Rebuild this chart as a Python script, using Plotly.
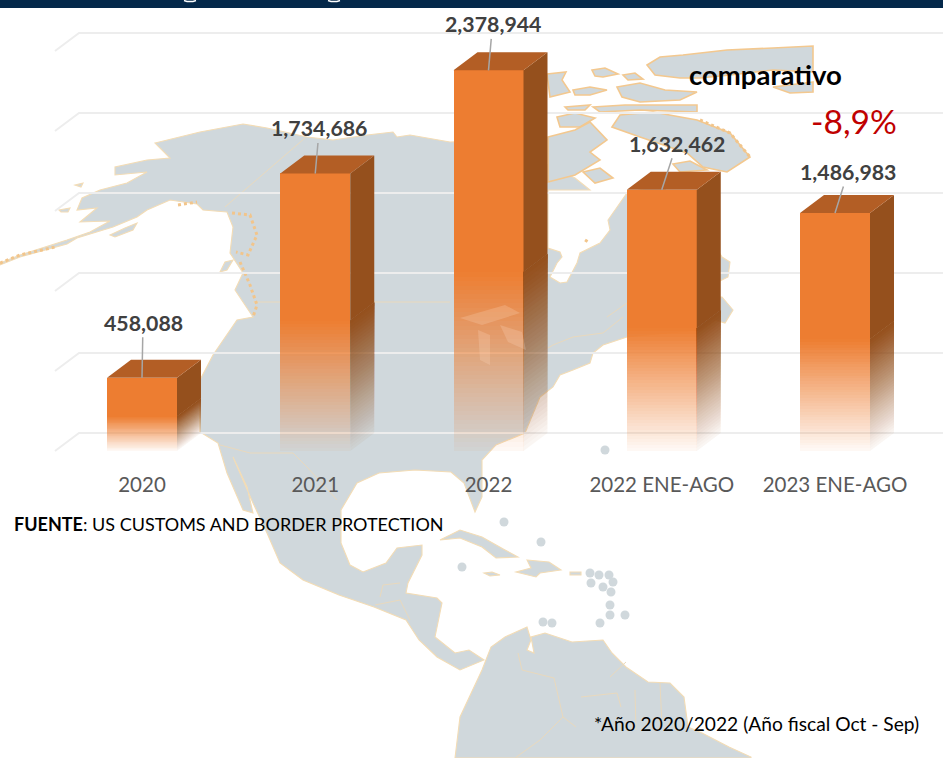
import plotly.graph_objects as go

# ---------- chart data ----------
CATEGORIES = ["2020", "2021", "2022", "2022 ENE-AGO", "2023 ENE-AGO"]
VALUES = [458088, 1734686, 2378944, 1632462, 1486983]
GRID_TICKS = [0, 500000, 1000000, 1500000, 2000000, 2500000]
LABEL_OFFSETS = [(1, -55), (4, -45), (4, -46), (15, -46), (13, -41)]

# ---------- figure geometry ----------
W, H = 943, 758
PX_PER_CAT = 173.25
UNITS_PER_PX = 6250
ZERO_PX_X, ZERO_PX_Y = 142, 451
XR = [(0 - ZERO_PX_X) / PX_PER_CAT, (W - ZERO_PX_X) / PX_PER_CAT]
YR = [-(H - ZERO_PX_Y) * UNITS_PER_PX, ZERO_PX_Y * UNITS_PER_PX]
BAR_W = 70 / PX_PER_CAT
DEPTH_X = 24 / PX_PER_CAT
DEPTH_Y = 18 * UNITS_PER_PX
FADE_TOP = 0.47
FADE_BANDS = 40
FADE_MIN_ALPHA = 0.04

# ---------- decorative background map (pixel outlines) ----------
LAND = [
 (0,263),(20,255),(67,240),(90,232),(110,221),(80,222),(97,208),(77,210),(82,198),(100,190),
 (127,183),(147,172),(115,175),(115,167),(147,160),(170,158),(155,143),(200,132),(243,124),(267,128),
 (307,137),(333,140),(367,135),(393,132),(397,137),(410,135),(450,142),(500,140),(548,165),
 (575,178),(590,190),(548,190),(548,248),(560,252),(562,257),(557,263),(550,277),(560,283),(567,282),
 (577,263),(580,253),(600,243),(610,230),(608,220),(627,193),
 (660,185),(700,220),(722,257),(730,262),(728,277),(718,282),(715,297),(722,297),(733,310),(725,323),
 (715,320),(700,330),(627,337),(603,345),(593,353),(590,363),(573,370),(560,375),(553,387),
 (540,397),(525,433),(496,445),(482,460),(482,497),(475,512),(464,483),(451,472),
 (415,470),(379,473),(357,483),(341,510),(341,543),(350,565),(363,572),(386,563),(397,548),
 (422,545),(422,555),(408,583),(406,593),(437,598),(442,603),(435,637),(455,653),(469,650),
 (484,660),(460,670),(437,657),(419,640),(406,620),(374,607),(339,595),(303,580),(280,563),
 (267,533),(253,503),(233,457),(247,487),(253,513),(243,510),(227,473),(218,443),(200,432),
 (200,380),(213,355),(237,320),(253,317),(235,290),(243,273),(230,253),(233,227),(227,212),
 (203,210),(197,204),(170,200),(147,210),(137,217),(113,227),(77,238),(67,244),(20,257),(0,265),
]
SOUTH_AMERICA = [
 (482,670),(491,647),(505,637),(527,627),(531,640),(527,650),(534,653),(531,637),(545,633),
 (572,642),(603,640),(612,653),(626,667),(648,682),(670,683),(684,697),(688,727),(702,733),
 (729,747),(751,757),(751,758),(455,758),(460,717),
]
ARCTIC = [
 [(647,65),(660,57),(683,55),(727,50),(773,48),(813,46),(813,72),(773,70),(730,75),(700,78),(680,78),(655,75)],
 [(813,82),(773,87),(790,93),(813,92)],
 [(547,74),(566,72),(562,80),(570,92),(550,97)],
 [(592,70),(605,68),(618,74),(603,77),(595,76)],
 [(623,75),(635,73),(643,79),(628,80)],
 [(573,90),(590,87),(607,90),(590,95),(575,95)],
 [(617,87),(640,83),(665,90),(697,92),(680,100),(640,102),(622,97)],
 [(565,107),(590,105),(585,110),(568,110)],
 [(593,107),(625,105),(697,105),(697,112),(640,110),(600,112)],
 [(557,117),(575,113),(595,118),(580,127),(560,127)],
 [(548,137),(575,130),(590,122),(607,140),(590,152),(600,160),(575,175),(548,182)],
 [(583,172),(600,168),(613,178),(595,183)],
 [(612,127),(620,115),(653,112),(697,120),(730,133),(750,157),(727,172),(703,167),(687,153),(640,137)],
 [(673,164),(690,161),(707,170),(680,172)],
]
ISLANDS = [
 [(440,540),(460,530),(482,537),(505,550),(518,557),(496,558),(482,547),(460,538)],
 [(527,560),(549,562),(561,570),(540,573),(536,577),(516,572),(531,568)],
 [(484,573),(492,572),(500,575),(490,576)],
 [(570,572),(581,572),(581,575),(570,575)],
 [(59,210),(70,208),(68,212),(61,212)],
 [(75,185),(83,183),(81,187)],
 [(110,235),(125,228),(137,223),(133,230),(115,237)],
 [(220,272),(225,262),(233,260),(227,270)],
]
DOTS = [(605,450),(504,522),(541,542),(462,567),(590,573),(599,575),(609,575),(591,583),(613,582),
        (603,587),(611,592),(610,605),(610,615),(625,615),(600,623),(543,622),(552,623)]
BORDERS = [
 [(225,207),(305,138)],
 [(253,302),(450,302)],
 [(220,445),(250,453),(293,453),(307,467),(337,500)],
 [(623,317),(603,333),(573,337),(553,345),(548,348)],
 [(627,303),(607,317)],
 [(518,653),(522,670),(554,678),(563,717),(576,727)],
 [(581,697),(617,693),(621,707)],
 [(610,677),(626,662)],
 [(635,690),(636,730)],
 [(660,683),(662,725)],
 [(563,717),(540,740),(515,758)],
 [(383,585),(380,597)],[(383,585),(400,583)],[(375,605),(400,600),(410,620)],
]
ORANGE_COASTS = [
 [(232,213),(250,215),(257,235),(248,255),(236,252)],
 [(240,262),(250,285),(257,305),(253,317)],
 [(0,263),(20,255),(55,247)],
 [(178,205),(197,202)],
 [(700,120),(730,133),(750,157)],
 [(585,240),(590,243)],
]
LAKES = [
 [(460,318),(505,305),(520,313),(482,325)],
 [(478,330),(490,335),(490,365),(480,360)],
 [(500,325),(522,332),(526,350),(508,342)],
]
TITLE_BAR_COLOR = "#04284a"
LAND_COLOR = "#d0d8dc"
COAST_COLOR = "#f3dcb5"
ARCTIC_COAST_COLOR = "#f3c88f"

def px(x):
    return x / W
def py(y):
    return 1 - y / H
def poly_path(pts):
    return "M" + "L".join(f"{px(x):.5f},{py(y):.5f}" for x, y in pts) + "Z"
def line_path(pts):
    return "M" + "L".join(f"{px(x):.5f},{py(y):.5f}" for x, y in pts)

shapes = []
for poly in [LAND, SOUTH_AMERICA] + ISLANDS:
    shapes.append(dict(type="path", path=poly_path(poly), xref="paper", yref="paper", layer="below",
                       fillcolor=LAND_COLOR, line=dict(color=COAST_COLOR, width=1.1)))
for poly in ARCTIC:
    shapes.append(dict(type="path", path=poly_path(poly), xref="paper", yref="paper", layer="below",
                       fillcolor=LAND_COLOR, line=dict(color=ARCTIC_COAST_COLOR, width=1.6)))
for x, y in DOTS:
    shapes.append(dict(type="circle", xref="paper", yref="paper", layer="below",
                       x0=px(x-4.5), x1=px(x+4.5), y0=py(y+4.5), y1=py(y-4.5),
                       fillcolor=LAND_COLOR, line=dict(width=0)))
for b in BORDERS:
    shapes.append(dict(type="path", path=line_path(b), xref="paper", yref="paper", layer="below",
                       line=dict(color="#e9d9bd", width=1)))
for c in ORANGE_COASTS:
    shapes.append(dict(type="path", path=line_path(c), xref="paper", yref="paper", layer="below",
                       line=dict(color="#f2c58b", width=3, dash="dot")))

# back-wall gridlines with their slanted return, in data units
for t in GRID_TICKS:
    path = (f"M{(55 - ZERO_PX_X)/PX_PER_CAT:.4f},{t}"
            f"L{(79 - ZERO_PX_X)/PX_PER_CAT:.4f},{t + DEPTH_Y}L{XR[1]:.4f},{t + DEPTH_Y}")
    shapes.append(dict(type="path", path=path, xref="x", yref="y", layer="below",
                       line=dict(color="#ededed", width=2)))

# lakes tint, seen through the bars
for lake in LAKES:
    shapes.append(dict(type="path", path=poly_path(lake), xref="paper", yref="paper", layer="above",
                       fillcolor="rgba(255,225,200,0.22)", line=dict(width=0)))

# header band and the cut-off heading strokes
shapes.append(dict(type="rect", xref="paper", yref="paper", layer="above", x0=0, x1=1, y0=py(8), y1=1,
                   fillcolor=TITLE_BAR_COLOR, line=dict(width=0)))
for a, b in [(184, 196), (328, 340)]:
    shapes.append(dict(type="path", path=line_path([(a, 0.5), (a + 3, 1.5), (b - 3, 1.5), (b, 0.5)]),
                       xref="paper", yref="paper", layer="above", line=dict(color="#ffffff", width=1.5)))

# ---------- marks ----------
positions = list(range(len(VALUES)))

def alpha(frac_low, frac_high):
    f = (frac_low + frac_high) / 2
    return FADE_MIN_ALPHA + (1 - FADE_MIN_ALPHA) * min(f / FADE_TOP, 1)

fig = go.Figure()

# solid upper part of the front faces
fig.add_trace(go.Bar(x=positions, y=[v * (1 - FADE_TOP) for v in VALUES], base=[v * FADE_TOP for v in VALUES],
                     width=BAR_W, marker=dict(color="#ed7d31", line=dict(width=0)), hoverinfo="skip"))
# fading lower part of the front faces
fx, fy, fb, fc = [], [], [], []
for p, v in zip(positions, VALUES):
    for k in range(FADE_BANDS):
        lo, hi = FADE_TOP * k / FADE_BANDS, FADE_TOP * (k + 1) / FADE_BANDS
        fx.append(p); fb.append(v * lo); fy.append(v * (hi - lo))
        fc.append(f"rgba(237,125,49,{alpha(lo, hi):.3f})")
fig.add_trace(go.Bar(x=fx, y=fy, base=fb, width=BAR_W, marker=dict(color=fc, line=dict(width=0)), hoverinfo="skip"))

def side_trace(lo, hi, color):
    xs, ys = [], []
    for p, v in zip(positions, VALUES):
        x0 = p + BAR_W / 2
        xs += [x0, x0, x0 + DEPTH_X, x0 + DEPTH_X, x0, None]
        ys += [v * lo, v * hi, v * hi + DEPTH_Y, v * lo + DEPTH_Y, v * lo, None]
    return go.Scatter(x=xs, y=ys, mode="lines", fill="toself", fillcolor=color,
                      line=dict(width=0), hoverinfo="skip")

# side faces: nested translucent layers build the fade without seams between bands
prev = 0.0
for k in range(FADE_BANDS):
    lo, hi = FADE_TOP * k / FADE_BANDS, FADE_TOP * (k + 1) / FADE_BANDS
    target = min(alpha(lo, hi), 0.985)
    step = 1 - (1 - target) / (1 - prev)
    prev = target
    fig.add_trace(side_trace(lo, FADE_TOP, f"rgba(149,80,29,{step:.4f})"))
fig.add_trace(side_trace(FADE_TOP, 1, "#95501d"))

# top faces
tx, ty = [], []
for p, v in zip(positions, VALUES):
    x0 = p - BAR_W / 2
    tx += [x0, x0 + BAR_W, x0 + BAR_W + DEPTH_X, x0 + DEPTH_X, x0, None]
    ty += [v, v, v + DEPTH_Y, v + DEPTH_Y, v, None]
fig.add_trace(go.Scatter(x=tx, y=ty, mode="lines", fill="toself", fillcolor="#b35e25",
                         line=dict(width=0), hoverinfo="skip"))

# data labels with leader lines
annotations = []
for p, v, (ax, ay) in zip(positions, VALUES, LABEL_OFFSETS):
    annotations.append(dict(x=p, y=v, xref="x", yref="y", text=f"<b>{v:,}</b>",
                            showarrow=True, arrowhead=0, arrowwidth=1.5, arrowcolor="#a6a6a6",
                            ax=ax, ay=ay, axref="pixel", ayref="pixel", standoff=0,
                            font=dict(family="Lato", size=21.3, color="#404040")))

def note(x, y, text, size, color, anchor="left"):
    annotations.append(dict(x=px(x), y=py(y), xref="paper", yref="paper", text=text, showarrow=False,
                            xanchor=anchor, yanchor="middle", font=dict(family="Lato", size=size, color=color)))

note(765, 74, "<b>comparativo</b>", 27.5, "#000000", "center")
note(854, 121, "-8,9%", 33.5, "#c00000", "center")
note(12, 524, "<b>FUENTE</b>: US CUSTOMS AND BORDER PROTECTION", 18, "#000000")
note(592, 723, "*Año 2020/2022 (Año fiscal Oct - Sep)", 19.2, "#000000")

fig.update_layout(
    width=W, height=H, margin=dict(l=0, r=0, t=0, b=0, pad=0),
    paper_bgcolor="#ffffff", plot_bgcolor="rgba(0,0,0,0)",
    barmode="overlay", bargap=0, showlegend=False,
    shapes=shapes, annotations=annotations,
    xaxis=dict(range=XR, tickmode="array", tickvals=positions, ticktext=CATEGORIES,
               showgrid=False, zeroline=False, showline=False, ticks="",
               tickfont=dict(family="Lato", size=20.5, color="#595959"),
               anchor="free", position=1 - 470 / H, automargin=False, fixedrange=True),
    yaxis=dict(range=YR, visible=False, showgrid=False, zeroline=False, fixedrange=True),
)

fig.write_html("out.html", config=dict(displayModeBar=False),
               post_script="document.body.style.margin='0';document.documentElement.style.overflow='hidden';")
